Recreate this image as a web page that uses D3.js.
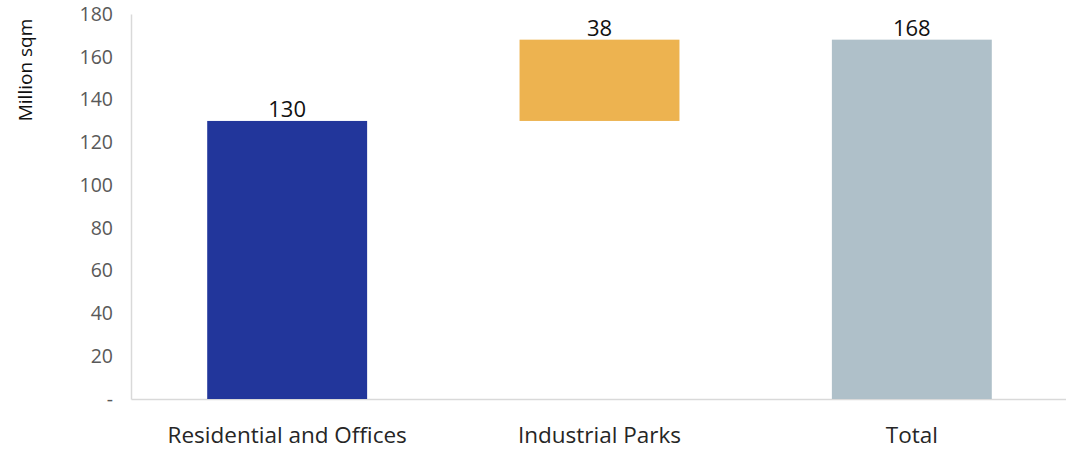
<!DOCTYPE html>
<html>
<head>
<meta charset="utf-8">
<script src="https://cdn.jsdelivr.net/npm/d3@7"></script>
<style>
  html, body { margin: 0; padding: 0; background: #fff; }
  svg { display: block; }
  svg text { font-family: "Open Sans", "Noto Sans", sans-serif; }
</style>
</head>
<body>
<svg id="chart" width="1066" height="451"></svg>
<script>
// Waterfall: floor space by segment, in million sqm
const categories = ["Residential and Offices", "Industrial Parks", "Total"];
const values = [130, 38, 168];
const kinds = ["start", "step", "total"];
const barColors = ["#22369b", "#edb350", "#afc0c9"];
const yTicks = [0, 20, 40, 60, 80, 100, 120, 140, 160, 180];
const yTitle = "Million sqm";

const width = 1066, height = 451;
const margin = { top: 14, right: -2, bottom: 52, left: 131 };
const FONT = '"Open Sans", "Noto Sans", sans-serif';

const svg = d3.select("#chart");

const x = d3.scaleBand()
  .domain(categories)
  .range([margin.left, width - margin.right])
  .paddingInner(0.488)
  .paddingOuter(0.244);

const y = d3.scaleLinear()
  .domain([0, 180])
  .range([height - margin.bottom, margin.top]);

// running totals for the floating bars
let running = 0;
const bars = categories.map((c, i) => {
  let lo, hi;
  if (kinds[i] === "total") { lo = 0; hi = values[i]; running = values[i]; }
  else { lo = running; hi = running + values[i]; running = hi; }
  return { cat: c, lo, hi, value: values[i], color: barColors[i] };
});

// y axis
const yAxis = svg.append("g")
  .attr("transform", `translate(${margin.left},0)`)
  .call(d3.axisLeft(y).tickValues(yTicks).tickSize(0).tickPadding(18)
    .tickFormat(d => d === 0 ? "-" : d3.format("d")(d)))
  .attr("font-family", FONT)
  .attr("font-size", 19.5);
yAxis.select(".domain").attr("stroke", "#d9d9d9").attr("stroke-width", 1.5);
yAxis.selectAll("text").attr("fill", "#595959");

// x axis
const xAxis = svg.append("g")
  .attr("transform", `translate(0,${y(0)})`)
  .call(d3.axisBottom(x).tickSize(0).tickPadding(28))
  .attr("font-family", FONT)
  .attr("font-size", 22.5);
xAxis.select(".domain").attr("stroke", "#d9d9d9").attr("stroke-width", 1.5);
xAxis.selectAll("text").attr("fill", "#262626");

// bars
svg.append("g").selectAll("rect")
  .data(bars)
  .join("rect")
  .attr("x", d => x(d.cat))
  .attr("width", x.bandwidth())
  .attr("y", d => y(d.hi))
  .attr("height", d => y(d.lo) - y(d.hi))
  .attr("fill", d => d.color);

// value labels
svg.append("g").selectAll("text")
  .data(bars)
  .join("text")
  .attr("x", d => x(d.cat) + x.bandwidth() / 2)
  .attr("y", d => y(d.hi) - 4)
  .attr("text-anchor", "middle")
  .attr("fill", "#111")
  .style("font-size", "22px")
  .text(d => d.value);

// y title
svg.append("text")
  .attr("transform", `translate(32,70) rotate(-90)`)
  .attr("text-anchor", "middle")
  .attr("fill", "#111")
  .style("font-size", "19px")
  .text(yTitle);
</script>
</body>
</html>
